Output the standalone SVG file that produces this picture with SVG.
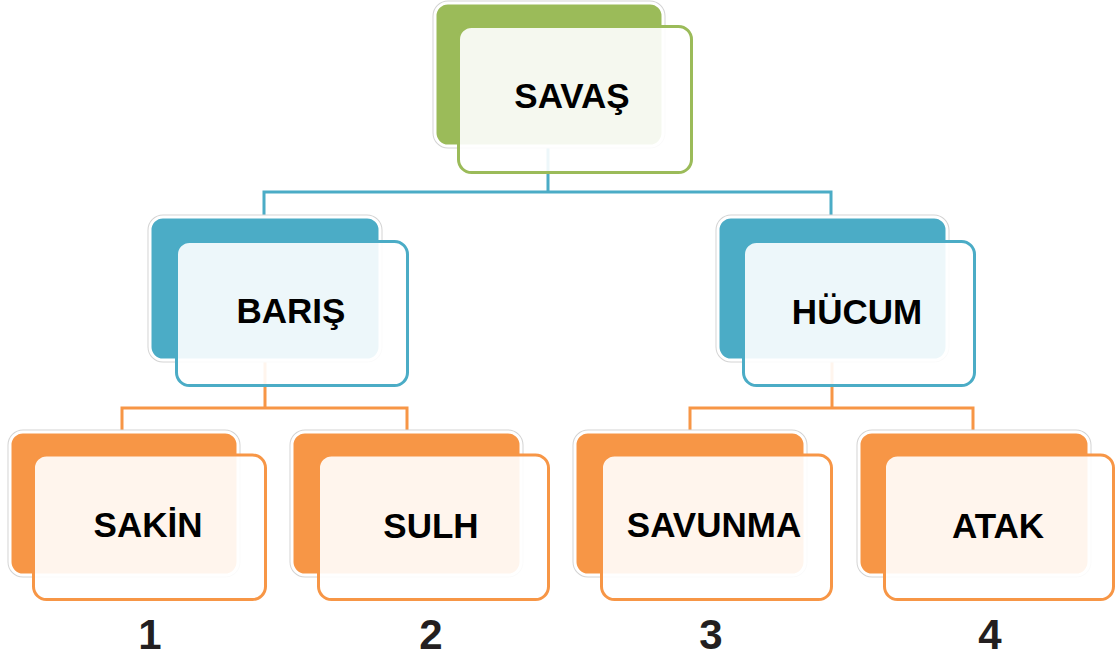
<svg xmlns="http://www.w3.org/2000/svg" width="1116" height="661" viewBox="0 0 1116 661">
<style>
.edge{fill:none;stroke-width:3;stroke-linejoin:miter}
.blue{stroke:#4BACC6}
.orange{stroke:#F79646}
.halo{fill:none;stroke:#d4d4d4;stroke-width:5}
.back{stroke:#ffffff;stroke-width:3}
.front{fill:#ffffff;fill-opacity:0.9;stroke-width:3}
.g .back{fill:#9BBB59}.g .front{stroke:#9BBB59}
.b .back{fill:#4BACC6}.b .front{stroke:#4BACC6}
.o .back{fill:#F79646}.o .front{stroke:#F79646}
.lbl{font-family:"Liberation Sans",Arial,sans-serif;font-weight:bold;font-size:35px;fill:#000;text-anchor:middle}
.num{font-family:"Liberation Sans",Arial,sans-serif;font-weight:bold;font-size:42px;fill:#231F20;text-anchor:middle}
</style>
<rect width="1116" height="661" fill="#ffffff"/>
<g id="connectors">
<path class="edge blue" d="M548 146 V192 M264 217 V192 H831 V217"/>
<path class="edge orange" d="M265 360 V408 M122 432 V408 H407 V432"/>
<path class="edge orange" d="M832 360 V408 M690 432 V408 H973 V432"/>
</g>
<g id="node-savas" class="g">
<rect class="halo" x="435" y="3" width="228" height="143" rx="13"/>
<rect class="back" x="435" y="3" width="228" height="143" rx="13"/>
<rect class="front" x="458.5" y="26.5" width="233" height="146" rx="13"/>
<text class="lbl" x="572" y="108">SAVAŞ</text>
</g>
<g id="node-baris" class="b">
<rect class="halo" x="150" y="217" width="230" height="143" rx="13"/>
<rect class="back" x="150" y="217" width="230" height="143" rx="13"/>
<rect class="front" x="176.5" y="241.5" width="231" height="144" rx="13"/>
<text class="lbl" x="291" y="323">BARIŞ</text>
</g>
<g id="node-hucum" class="b">
<rect class="halo" x="718" y="217" width="229" height="143" rx="13"/>
<rect class="back" x="718" y="217" width="229" height="143" rx="13"/>
<rect class="front" x="743.5" y="241.5" width="231" height="144" rx="13"/>
<text class="lbl" x="857" y="324">HÜCUM</text>
</g>
<g id="node-sakin" class="o">
<rect class="halo" x="10" y="432" width="228" height="143" rx="13"/>
<rect class="back" x="10" y="432" width="228" height="143" rx="13"/>
<rect class="front" x="33.5" y="455" width="232" height="144.5" rx="13"/>
<text class="lbl" x="148" y="537">SAKİN</text>
<text class="num" x="150" y="649">1</text>
</g>
<g id="node-sulh" class="o">
<rect class="halo" x="292" y="432" width="229" height="143" rx="13"/>
<rect class="back" x="292" y="432" width="229" height="143" rx="13"/>
<rect class="front" x="318.5" y="455" width="230" height="144.5" rx="13"/>
<text class="lbl" x="431" y="538">SULH</text>
<text class="num" x="431" y="649">2</text>
</g>
<g id="node-savunma" class="o">
<rect class="halo" x="575" y="432" width="230" height="143" rx="13"/>
<rect class="back" x="575" y="432" width="230" height="143" rx="13"/>
<rect class="front" x="601.5" y="455" width="230" height="144.5" rx="13"/>
<text class="lbl" x="714" y="537">SAVUNMA</text>
<text class="num" x="711" y="649">3</text>
</g>
<g id="node-atak" class="o">
<rect class="halo" x="859" y="432" width="230" height="143" rx="13"/>
<rect class="back" x="859" y="432" width="230" height="143" rx="13"/>
<rect class="front" x="884.5" y="455" width="229" height="144.5" rx="13"/>
<text class="lbl" x="998" y="538">ATAK</text>
<text class="num" x="990" y="649">4</text>
</g>
</svg>
